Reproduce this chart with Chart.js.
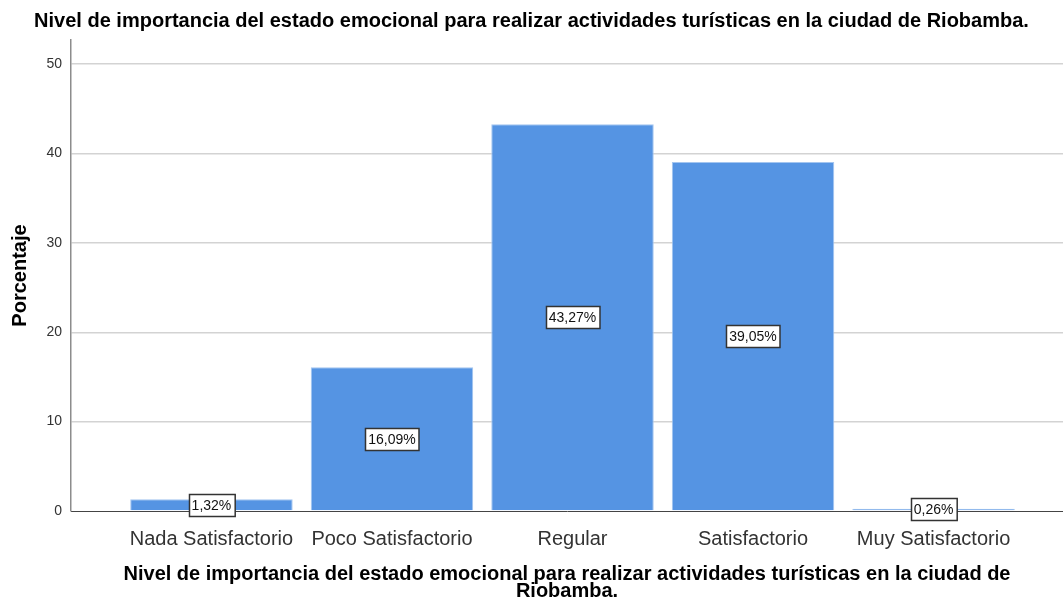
<!DOCTYPE html>
<html lang="es">
<head>
<meta charset="utf-8">
<title>Nivel de importancia del estado emocional</title>
<script src="https://cdn.jsdelivr.net/npm/chart.js@4.4.1/dist/chart.umd.min.js"></script>
<style>
  html, body { margin: 0; padding: 0; background: #fff; }
  #chart { display: block; }
</style>
</head>
<body>
<canvas id="chart" width="1063" height="600"></canvas>
<script>
// --- Datos ---------------------------------------------------------------
const categories = ['Nada Satisfactorio', 'Poco Satisfactorio', 'Regular', 'Satisfactorio', 'Muy Satisfactorio'];
const percentages = [1.32, 16.09, 43.27, 39.05, 0.26];
const yTicks = [0, 10, 20, 30, 40, 50];

const chartTitle = 'Nivel de importancia del estado emocional para realizar actividades turísticas en la ciudad de Riobamba.';
const xTitle = ['Nivel de importancia del estado emocional para realizar actividades turísticas en la ciudad de', 'Riobamba.'];
const yTitle = 'Porcentaje';

const FONT = "'Liberation Sans', Arial, Helvetica, sans-serif";

// etiquetas "43,27%" en caja blanca, en medio de cada barra
const boxLabels = {
  id: 'boxLabels',
  afterDatasetsDraw(chart) {
    const ctx = chart.ctx;
    const meta = chart.getDatasetMeta(0);
    ctx.save();
    ctx.font = '14px ' + FONT;
    ctx.textAlign = 'center';
    ctx.textBaseline = 'middle';
    meta.data.forEach(function (bar, i) {
      const txt = percentages[i].toFixed(2).replace('.', ',') + '%';
      const cy = (bar.y + bar.base) / 2;
      const w = ctx.measureText(txt).width + 6;
      const h = 22;
      const x0 = Math.round(bar.x - w / 2) + 0.5;
      const y0 = Math.round(cy - h / 2) + 0.5;
      ctx.fillStyle = '#fff';
      ctx.fillRect(x0, y0, w, h);
      ctx.strokeStyle = '#333';
      ctx.lineWidth = 1.5;
      ctx.strokeRect(x0, y0, w, h);
      ctx.fillStyle = '#111';
      ctx.fillText(txt, bar.x, cy + 1);
    });
    ctx.restore();
  }
};

new Chart(document.getElementById('chart'), {
  type: 'bar',
  data: {
    datasets: [{
      data: percentages.map(function (v, i) { return { x: i, y: v }; }),
      backgroundColor: '#5594e3',
      borderColor: '#a3c5f0',
      borderWidth: 1,
      borderSkipped: 'bottom',
      categoryPercentage: 1,
      barPercentage: 0.9
    }]
  },
  options: {
    responsive: false,
    devicePixelRatio: 1,
    animation: false,
    layout: { padding: 0 },
    plugins: {
      legend: { display: false },
      tooltip: { enabled: false },
      title: {
        display: true,
        text: chartTitle,
        color: '#000',
        font: { family: FONT, size: 20, weight: 'bold', lineHeight: 1.1 },
        padding: { top: 10, bottom: 8 }
      }
    },
    scales: {
      x: {
        type: 'linear',
        offset: false,
        min: -0.778,
        max: 4.717,
        afterBuildTicks: function (scale) {
          scale.ticks = categories.map(function (c, i) { return { value: i }; });
        },
        afterFit: function (scale) { scale.height = 89; },
        grid: { display: false, offset: false },
        border: { display: true, color: '#444', width: 1 },
        ticks: {
          autoSkip: false,
          maxRotation: 0,
          padding: 8,
          color: '#333',
          font: { family: FONT, size: 20 },
          callback: function (v) { return categories[v]; }
        },
        title: {
          display: true,
          text: xTitle,
          color: '#000',
          font: { family: FONT, size: 20, weight: 'bold', lineHeight: '17px' },
          padding: { top: 0, bottom: 0 }
        }
      },
      y: {
        min: 0,
        max: 52.7,
        afterBuildTicks: function (scale) {
          scale.ticks = yTicks.map(function (v) { return { value: v }; });
        },
        afterFit: function (scale) { scale.width = 71; },
        grid: {
          color: function (c) { return c.tick && c.tick.value === 0 ? 'rgba(0,0,0,0)' : '#d3d3d3'; },
          lineWidth: 1.5,
          drawTicks: false
        },
        border: { display: true, color: '#8c8c8c', width: 1.5 },
        ticks: {
          padding: 9,
          color: '#333',
          font: { family: FONT, size: 14 }
        },
        title: {
          display: true,
          text: yTitle,
          color: '#000',
          font: { family: FONT, size: 20, weight: 'bold', lineHeight: 1.2 },
          padding: { top: 8, bottom: 0 }
        }
      }
    }
  },
  plugins: [boxLabels]
});
</script>
</body>
</html>
